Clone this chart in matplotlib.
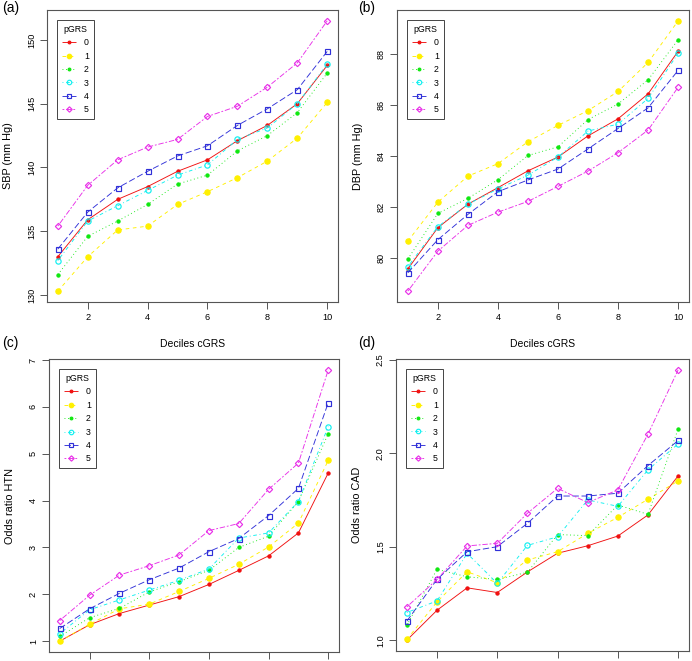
import matplotlib
matplotlib.use("Agg")
import matplotlib.pyplot as plt
import numpy as np

plt.rcParams['font.family'] = ['Liberation Sans', 'DejaVu Sans']

deciles = [1, 2, 3, 4, 5, 6, 7, 8, 9, 10]
groups = ["0", "1", "2", "3", "4", "5"]

sbp = {
    "0": [133.0, 135.9, 137.5, 138.5, 139.7, 140.6, 142.1, 143.3, 145.0, 148.0],
    "1": [130.3, 133.0, 135.1, 135.4, 137.1, 138.1, 139.2, 140.5, 142.3, 145.1],
    "2": [131.6, 134.6, 135.8, 137.1, 138.7, 139.4, 141.3, 142.5, 144.3, 147.4],
    "3": [132.7, 135.8, 137.0, 138.2, 139.4, 140.2, 142.2, 143.1, 145.0, 148.1],
    "4": [133.6, 136.5, 138.4, 139.7, 140.9, 141.7, 143.3, 144.6, 146.1, 149.1],
    "5": [135.4, 138.6, 140.6, 141.6, 142.2, 144.0, 144.8, 146.3, 148.2, 151.5],
}
dbp = {
    "0": [79.56, 81.18, 82.10, 82.75, 83.41, 83.95, 84.78, 85.45, 86.43, 88.10],
    "1": [80.65, 82.18, 83.20, 83.69, 84.55, 85.19, 85.77, 86.52, 87.66, 89.29],
    "2": [79.95, 81.74, 82.33, 83.06, 84.01, 84.35, 85.42, 86.03, 86.98, 88.55],
    "3": [79.65, 81.22, 82.10, 82.70, 83.24, 83.95, 84.97, 85.24, 86.25, 88.02],
    "4": [79.41, 80.71, 81.70, 82.59, 83.05, 83.48, 84.27, 85.07, 85.88, 87.35],
    "5": [78.69, 80.26, 81.27, 81.79, 82.21, 82.80, 83.40, 84.12, 85.01, 86.69],
}
or_htn = {
    "0": [1.00, 1.35, 1.59, 1.77, 1.95, 2.21, 2.51, 2.82, 3.31, 4.59],
    "1": [1.00, 1.36, 1.69, 1.79, 2.06, 2.34, 2.64, 3.01, 3.52, 4.86],
    "2": [1.10, 1.50, 1.70, 2.05, 2.27, 2.51, 3.00, 3.24, 3.98, 5.43],
    "3": [1.16, 1.67, 1.88, 2.09, 2.30, 2.54, 3.20, 3.31, 3.98, 5.58],
    "4": [1.27, 1.69, 2.02, 2.31, 2.56, 2.91, 3.19, 3.68, 4.26, 6.09],
    "5": [1.44, 1.98, 2.41, 2.61, 2.84, 3.36, 3.51, 4.24, 4.80, 6.79],
}
or_cad = {
    "0": [1.00, 1.16, 1.28, 1.255, 1.365, 1.465, 1.505, 1.557, 1.67, 1.879],
    "1": [1.004, 1.205, 1.366, 1.307, 1.429, 1.473, 1.571, 1.657, 1.754, 1.852],
    "2": [1.08, 1.379, 1.339, 1.325, 1.363, 1.565, 1.559, 1.723, 1.673, 2.13],
    "3": [1.148, 1.21, 1.464, 1.304, 1.507, 1.553, 1.75, 1.716, 1.911, 2.05],
    "4": [1.102, 1.325, 1.473, 1.50, 1.625, 1.771, 1.771, 1.786, 1.934, 2.068],
    "5": [1.178, 1.325, 1.504, 1.518, 1.679, 1.812, 1.736, 1.804, 2.102, 2.446],
}

colors = ['#F01010', '#FFF000', '#10E810', '#10F0F0', '#3030D8', '#E830E8']
dashes = [(0, ()), (0, (4, 4)), (0, (1, 3)), (0, (1, 3, 4, 3)), (0, (7, 3)), (0, (2, 2, 6, 2))]
markers = ['o', 'o', 'o', 'o', 's', 'D']
msizes = [2.3, 3.8, 2.3, 3.8, 3.6, 3.2]
filled = [True, True, True, False, False, False]

W, H = 692, 661
fig = plt.figure(figsize=(W / 100, H / 100), dpi=100)


def add_axes(l, r, t, b):
    return fig.add_axes([l / W, 1 - b / H, (r - l) / W, (b - t) / H])


panels = [
    (add_axes(47, 338, 10, 302), sbp, "SBP (mm Hg)", [130, 135, 140, 145, 150], True, "(a)", (2, 8)),
    (add_axes(397, 689, 10, 302), dbp, "DBP (mm Hg)", [80, 82, 84, 86, 88], True, "(b)", (358, 8)),
    (add_axes(49, 339, 359, 652), or_htn, "Odds ratio HTN", [1, 2, 3, 4, 5, 6, 7], False, "(c)", (2, 343)),
    (add_axes(396, 689, 359, 651), or_cad, "Odds ratio CAD", [1.0, 1.5, 2.0, 2.5], False, "(d)", (358, 343)),
]

edge = '#555555'
for ax, data, ylab, yticks, xlabels, tag, tagpos in panels:
    allv = []
    for i, g in enumerate(groups):
        vals = data[g]
        allv += vals
        c = colors[i]
        ax.plot(deciles, vals, color=c, lw=0.65, linestyle=dashes[i],
                marker=markers[i], ms=msizes[i],
                markerfacecolor=c if filled[i] else 'none',
                markeredgecolor=c, markeredgewidth=0.85, label=g)
    lo, hi = min(allv), max(allv)
    pad = (hi - lo) * 0.04
    ax.set_ylim(lo - pad, hi + pad)
    ax.set_xlim(1 - 0.36, 10 + 0.36)
    ax.set_xticks([2, 4, 6, 8, 10])
    ax.set_yticks(yticks)
    if ylab == "Odds ratio CAD":
        ax.set_yticklabels(["1.0", "1.5", "2.0", "2.5"])
    if xlabels:
        ax.set_xlabel("Deciles cGRS", fontsize=7.5, labelpad=12)
    else:
        ax.set_xticklabels([])
    for lbl in ax.get_yticklabels():
        lbl.set_rotation(90)
        lbl.set_va('center')
    ax.tick_params(axis='both', direction='out', length=5, width=0.7,
                   color=edge, labelsize=6.6, pad=3)
    for s in ax.spines.values():
        s.set_color(edge)
        s.set_linewidth(0.8)
    ax.set_ylabel(ylab, fontsize=7.8, labelpad=10)
    leg = ax.legend(title="pGRS", loc='upper left', bbox_to_anchor=(0.035, 0.965),
                    fontsize=6.3, title_fontsize=6.3, fancybox=False, framealpha=1,
                    edgecolor='#444444', handlelength=1.6, handletextpad=0.9,
                    labelspacing=0.5, borderpad=0.55, markerscale=0.85,
                    borderaxespad=0)
    leg.get_frame().set_linewidth(0.7)
    fig.text(tagpos[0] / W, 1 - tagpos[1] / H, tag, fontsize=10, va='center', ha='left')

fig.savefig("out.png", dpi=100)
